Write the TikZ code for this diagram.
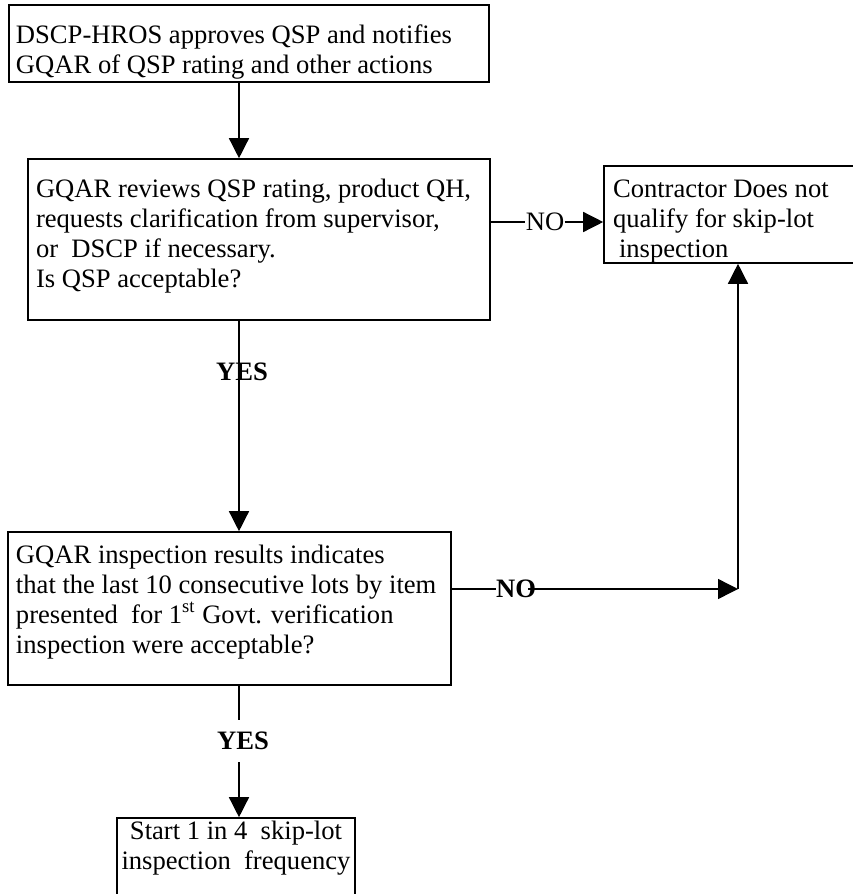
\documentclass[tikz,border=0pt]{standalone}
\usepackage{fontspec}
\setmainfont{Liberation Serif}
\usetikzlibrary{arrows.meta}
\newcommand{\boxtext}[4]{\parbox[c][#1][t]{#2}{\raggedright\rule{0pt}{#3}#4}}

\begin{document}
\begin{tikzpicture}[x=0.5pt,y=-0.5pt,>={Triangle[length=10pt,width=10pt]},
		font=\fontsize{13.3pt}{15pt}\selectfont,
		box/.style={rectangle,draw=black,line width=0.8pt,inner ysep=0pt},
		answer/.style={font=\fontsize{13.3pt}{15pt}\selectfont\bfseries,inner sep=0pt},
		flow/.style={line width=0.7pt}]
		\useasboundingbox (0,0) rectangle (852,894);
		\coordinate (spine) at (239,0);
		\coordinate (turn) at (738,589);
		
		\node[box,inner xsep=3.5pt] (approve) at (249,43.5)
			{\boxtext{38.5pt}{233pt}{19pt}{DSCP-HROS approves QSP and notifies\\GQAR of QSP rating and other actions}};
		\node[box,inner xsep=4pt] (review) at (259,239.5)
			{\boxtext{80.5pt}{223pt}{19pt}{GQAR reviews QSP rating, product QH,\\requests clarification from supervisor,\\or\ \ DSCP if necessary.\\Is QSP acceptable?}};
		\node[box,inner xsep=4.5pt] (refuse) at (732,214.5)
			{\boxtext{48.5pt}{119pt}{15.5pt}{Contractor Does not\\qualify for skip-lot\\\hspace*{3pt}inspection}};
		\node[box,inner xsep=4pt] (check) at (229.5,608.5)
			{\boxtext{76.5pt}{213.5pt}{15.5pt}{GQAR inspection results indicates\\that the last 10 consecutive lots by item\\presented\ \ for 1\textsuperscript{st} Govt. verification\\inspection were acceptable?}};
		\node[box,inner xsep=1pt] (skiplot) at (236,859)
			{\boxtext{41pt}{117pt}{10.5pt}{\centering Start 1 in 4\ \ skip-lot\\inspection\ \ frequency}};
		
		\node[answer]              (yes1) at (242,372) {YES};
		\node[answer,inner ysep=6pt] (yes2) at (243,741) {YES};
		\node[inner sep=0pt]       (no1)  at (545,222) {NO};
		\node[answer]              (no2)  at (516,589) {NO};
		
		\path[flow,->]
		(approve.south -| spine) edge (review.north -| spine)
		(review.south -| spine) edge (check.north -| spine)
		(yes2.south -| spine) edge (skiplot.north -| spine)
		(no1.east) edge (refuse.west |- no1)
		([xshift=-4pt]no2.east) edge (turn)
		(turn) edge (turn |- refuse.south);
		\path[flow]
		(check.south -| spine) edge (yes2.north -| spine)
		(review.east |- no1) edge (no1.west)
		(check.east |- no2) edge (no2.west);
\end{tikzpicture}
\end{document}
